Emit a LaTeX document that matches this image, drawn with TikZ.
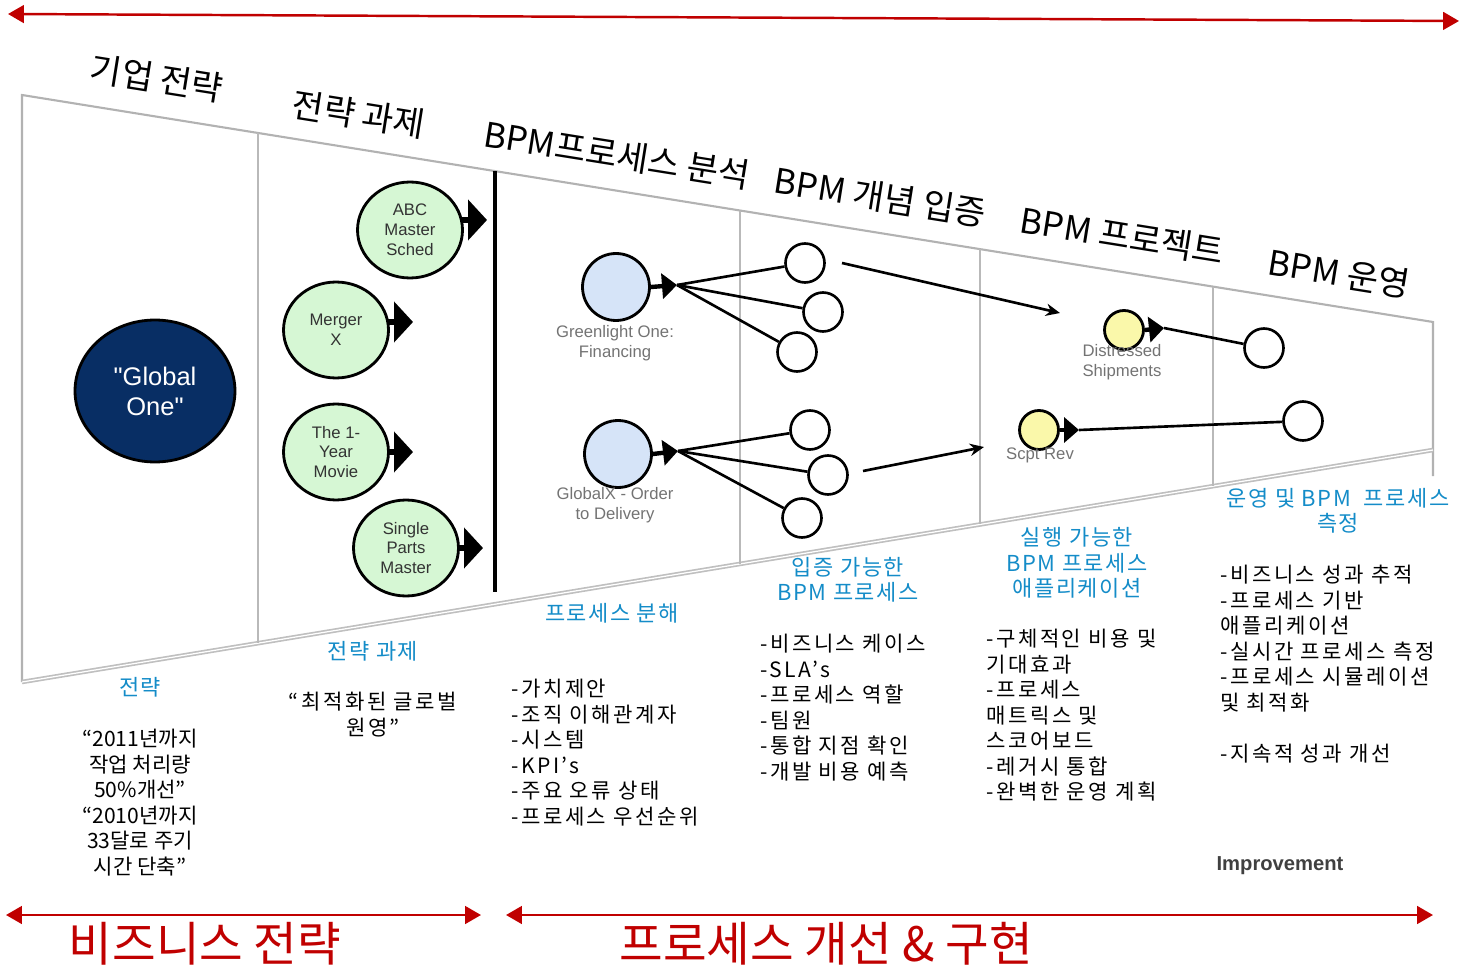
\documentclass[tikz,border=0pt]{standalone}
\usepackage{fontspec}
\setmainfont{Noto Sans CJK KR}
\newfontfamily\latfont{Liberation Sans}
\newfontfamily\widefont[LetterSpace=12]{Noto Sans CJK KR}
\newfontfamily\bluefont[LetterSpace=7]{Noto Sans CJK KR}
\usepackage{tikz}
\usetikzlibrary{shapes.geometric,arrows.meta,calc,positioning}
\definecolor{bpmred}{RGB}{192,0,0}
\definecolor{bpmblue}{RGB}{20,140,200}
\definecolor{navy}{RGB}{8,46,100}
\definecolor{taskgreen}{RGB}{214,247,212}
\definecolor{procblue}{RGB}{214,228,248}
\definecolor{projyellow}{RGB}{250,248,170}

\tikzset{
  phase/.style={font=\fontsize{19.5}{21}\selectfont, rotate=-9.1, inner sep=0pt},
  stage/.style={text=bpmblue, font=\bluefont\fontsize{12.5}{14.5}\selectfont, align=center, inner sep=0pt},
  notes/.style={font=\widefont\fontsize{12}{14.5}\selectfont, align=left, anchor=north west, inner sep=0pt},
  quote/.style={font=\fontsize{12}{14.5}\selectfont, align=center, anchor=north, inner sep=0pt},
  vision/.style={ellipse, draw, line width=1.6pt, fill=navy, text=white, minimum width=3.2cm,
    minimum height=2.84cm, align=center, font=\latfont\fontsize{14.5}{17}\selectfont},
  task/.style={ellipse, draw, line width=1.6pt, fill=taskgreen, text=black!80, minimum width=2.1cm,
    minimum height=1.92cm, inner sep=0pt, align=center, font=\latfont\fontsize{9.5}{11.3}\selectfont},
  proc/.style={circle, draw, line width=1.6pt, fill=procblue, minimum size=1.34cm, inner sep=0pt},
  proj/.style={circle, draw, line width=1.6pt, fill=projyellow, minimum size=0.78cm, inner sep=0pt},
  leaf/.style={circle, draw, line width=1.5pt, fill=white, minimum size=0.78cm, inner sep=0pt},
  caption/.style={text=black!55, align=center, inner sep=0pt, font=\latfont\fontsize{9.5}{11.3}\selectfont},
  taskhead/.style={line width=3pt, -{Triangle[length=0.38cm,width=0.8cm]}},
  prochead/.style={line width=2.5pt, -{Triangle[length=0.3cm,width=0.5cm]}},
  link/.style={line width=1.5pt},
  flow/.style={line width=1.5pt, -{Stealth[length=8pt,width=7pt]}},
  span/.style={bpmred, line width=1.4pt, {Triangle[length=9pt,width=10pt]}-{Triangle[length=9pt,width=10pt]}},
  spanlbl/.style={text=bpmred, font=\fontsize{27}{29}\selectfont}
}

\begin{document}
\begin{tikzpicture}[x=0.02cm,y=-0.02cm]
\useasboundingbox (0,0) rectangle (1460,969);

\coordinate (topL) at (8,14);
\coordinate (topR) at (1459,21);
\draw[span] (topL) -- (topR);

\coordinate (tl) at (22,95);
\coordinate (tr) at (1433,322);
\coordinate (bl) at (22,682);
\coordinate (br) at (1433,450);
\draw[gray!60, line width=1.2pt] (bl) -- (tl) -- (tr) -- ($(br)+(0,26)$);
\draw[gray!50, line width=2.6pt] (bl) -- (br);
\draw[white, line width=0.7pt] (bl) -- (br);
\foreach \t in {0.1673,0.5089,0.6790,0.8441}
  \draw[gray!55, line width=0.8pt] ($(tl)!\t!(tr)$) -- ($(bl)!\t!(br)$);
\draw[line width=2pt] ($(tl)!0.3352!(tr)$) -- ($(bl)!0.3352!(br)+(0,-12)$);

\node[phase] (h1) at (157,78) {기업 전략};
\node[phase] (h2) at (359,114) {전략 과제};
\node[phase] (h3) at (617,155) {BPM프로세스 분석};
\node[phase] (h4) at (880,197) {BPM 개념 입증};
\node[phase] (h5) at (1122,236) {BPM 프로젝트};
\node[phase] (h6) at (1339,273) {BPM 운영};

\node[vision] (global) at (155,391) {"Global\\One"};

\draw[taskhead] ($(410,230)+(48,-10)$) coordinate (abcfoot) -- ++(29,0) coordinate (abctip);
\node[task] (abc) at (410,230) {ABC\\Master\\Sched};
\draw[taskhead] ($(336,330)+(48,-8)$) coordinate (mergerfoot) -- ++(29,0) coordinate (mergertip);
\node[task] (merger) at (336,330) {Merger\\X};
\draw[taskhead] ($(336,452)+(48,0)$) coordinate (moviefoot) -- ++(29,0) coordinate (movietip);
\node[task] (movie) at (336,452) {The 1-\\Year\\Movie};
\draw[taskhead] ($(406,548)+(48,0)$) coordinate (partsfoot) -- ++(29,0) coordinate (partstip);
\node[task] (parts) at (406,548) {Single\\Parts\\Master};

\node[proc] (green1) at (616,287) {};
\node[caption] (green1lbl) at (615,343) {Greenlight One:\\Financing};
\coordinate (green1tip) at (677,285);
\draw[prochead] (green1.east) -- (green1tip);
\node[leaf] (g1a) at (805,263) {};
\node[leaf] (g1b) at (823,312) {};
\node[leaf] (g1c) at (797,352) {};
\foreach \n in {g1a,g1b,g1c}
  \draw[link] (green1tip) -- (\n);

\node[proc] (globalx) at (618,454) {};
\node[caption] (globalxlbl) at (615,505) {GlobalX - Order\\to Delivery};
\coordinate (globalxtip) at (678,451);
\draw[prochead] (globalx.east) -- (globalxtip);
\node[leaf] (g2a) at (810,430) {};
\node[leaf] (g2b) at (828,475) {};
\node[leaf] (g2c) at (802,518) {};
\foreach \n in {g2a,g2b,g2c}
  \draw[link] (globalxtip) -- (\n);

\coordinate (ds0) at (842,263);
\coordinate (ds1) at (1060,313);
\draw[flow] (ds0) -- (ds1);
\coordinate (sr0) at (863,471);
\coordinate (sr1) at (984,447);
\draw[flow] (sr0) -- (sr1);

\node[proj] (dist) at (1124,330) {};
\coordinate (disttip) at (1164,328);
\draw[prochead] (dist.east) -- (disttip);
\node[leaf] (dist2) at (1264,348) {};
\draw[link] (disttip) -- (dist2);
\node[caption] (distlbl) at (1122,362) {Distressed\\Shipments};

\node[proj] (scpt) at (1039,430) {};
\coordinate (scpttip) at (1079,430);
\draw[prochead] (scpt.east) -- (scpttip);
\node[leaf] (scpt2) at (1303,421) {};
\draw[link] (scpttip) -- (scpt2);
\node[caption] (scptlbl) at (1040,455) {Scpt Rev};

\node[stage] (s1) at (140,687) {전략};
\node[stage] (s2) at (373,651) {전략 과제};
\node[stage] (s3) at (612,613) {프로세스 분해};
\node[stage] (s4) at (848,580) {입증 가능한\\BPM 프로세스};
\node[stage] (s5) at (1077,563) {실행 가능한\\BPM 프로세스\\애플리케이션};
\node[stage] (s6) at (1338,511) {운영 및 BPM \ 프로세스\\측정};

\node[quote] (q1) at (140,729) {“2011년까지\\작업 처리량\\50\%개선”\\“2010년까지\\33달로 주기\\시간 단축”};
\node[quote, font=\widefont\fontsize{12}{14.5}\selectfont] (q2) at (373,692) {“최적화된 글로벌\\원영”};
\node[notes] (n3) at (511,679) {-가치제안\\-조직 이해관계자\\-시스템\\-KPI’s\\-주요 오류 상태\\-프로세스 우선순위};
\node[notes] (n4) at (760,634) {-비즈니스 케이스\\-SLA’s\\-프로세스 역할\\-팀원\\-통합 지점 확인\\-개발 비용 예측};
\node[notes] (n5) at (986,629) {-구체적인 비용 및\\기대효과\\-프로세스\\매트릭스 및\\스코어보드\\-레거시 통합\\-완벽한 운영 계획};
\node[notes] (n6) at (1220,565) {-비즈니스 성과 추적\\-프로세스 기반\\애플리케이션\\-실시간 프로세스 측정\\-프로세스 시뮬레이션\\및 최적화\\[14.5pt]-지속적 성과 개선};

\node[text=black!75, font=\latfont\bfseries\fontsize{11.5}{13}\selectfont] (impr) at (1280,866) {Improvement};

\coordinate (bizL) at (6,915);
\coordinate (bizR) at (481,915);
\draw[span] (bizL) -- (bizR);
\coordinate (procL) at (506,915);
\coordinate (procR) at (1433,915);
\draw[span] (procL) -- (procR);
\node[spanlbl] (bizlbl) at (205,944) {비즈니스 전략};
\node[spanlbl] (proclbl) at (826,944) {프로세스 개선 \& 구현};
\end{tikzpicture}
\end{document}
